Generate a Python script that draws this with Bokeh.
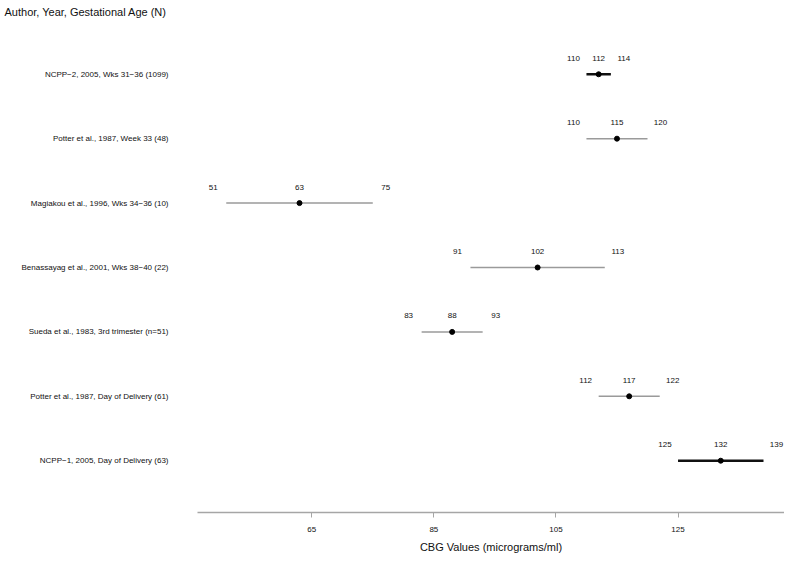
from bokeh.plotting import figure
from bokeh.models import ColumnDataSource, FixedTicker, Range1d
from bokeh.core.properties import value
from bokeh.embed import file_html
from bokeh.resources import INLINE

# ---- data ----
studies = [
    "NCPP\u22122, 2005, Wks 31\u221236 (1099)",
    "Potter et al., 1987, Week 33 (48)",
    "Magiakou et al., 1996, Wks 34\u221236 (10)",
    "Benassayag et al., 2001, Wks 38\u221240 (22)",
    "Sueda et al., 1983, 3rd trimester (n=51)",
    "Potter et al., 1987, Day of Delivery (61)",
    "NCPP\u22121, 2005, Day of Delivery (63)",
]
means = [112, 115, 63, 102, 88, 117, 132]
lowers = [110, 110, 51, 91, 83, 112, 125]
uppers = [114, 120, 75, 113, 93, 122, 139]
x_ticks = [65, 85, 105, 125]
title_text = "Author, Year, Gestational Age (N)"
x_title = "CBG Values (micrograms/ml)"

FONT = "Liberation Sans"

n = len(studies)
ypos = [n - i for i in range(n)]
ncpp = [s.startswith("NCPP") for s in studies]
colors = ["#111111" if b else "#9a9a9a" for b in ncpp]
widths = [2.6 if b else 1.5 for b in ncpp]

src = ColumnDataSource(dict(
    y=ypos, mean=means, lo=lowers, hi=uppers,
    color=colors, width=widths,
    mean_t=[str(v) for v in means],
    lo_t=[str(v) for v in lowers],
    hi_t=[str(v) for v in uppers],
))

p = figure(width=784, height=555, output_backend="svg", toolbar_location=None,
           x_range=Range1d(46.29, 142.44), y_range=Range1d(0.196, 7.835),
           min_border_left=197, min_border_right=0, min_border_top=0,
           min_border_bottom=42)
p.outline_line_color = None
p.grid.visible = False
p.background_fill_color = "white"

p.title.text = title_text
p.title.text_font = FONT
p.title.text_font_size = "11px"
p.title.text_font_style = "normal"
p.title.text_color = "#111111"
p.title.align = "left"
p.title.offset = -193
p.title.standoff = 6

p.segment(x0="lo", x1="hi", y0="y", y1="y", line_color="color",
          line_width="width", source=src)
p.scatter(x="mean", y="y", marker="circle", size=5, color="black", source=src)

common = dict(text_font_size="8px", text_align="center", text_baseline="middle",
              text_color="#111111", y_offset=-16, text_font=value(FONT))
p.text(x="lo", y="y", text="lo_t", x_offset=-13, source=src, **common)
p.text(x="mean", y="y", text="mean_t", source=src, **common)
p.text(x="hi", y="y", text="hi_t", x_offset=13, source=src, **common)

# x axis
xa = p.xaxis[0]
xa.ticker = FixedTicker(ticks=x_ticks)
xa.minor_tick_line_color = None
xa.axis_line_color = "#a6a6a6"
xa.axis_line_width = 1.5
xa.major_tick_line_color = "#a6a6a6"
xa.major_tick_out = 5
xa.major_tick_in = 0
xa.major_label_standoff = 9
xa.major_label_text_font = FONT
xa.major_label_text_font_size = "8px"
xa.major_label_text_color = "#111111"
xa.axis_label = x_title
xa.axis_label_text_font = FONT
xa.axis_label_text_font_size = "11px"
xa.axis_label_text_font_style = "normal"
xa.axis_label_text_color = "#111111"
xa.axis_label_standoff = 6

# y axis with study labels
ya = p.yaxis[0]
ya.ticker = FixedTicker(ticks=ypos)
ya.major_label_overrides = {y: s for y, s in zip(ypos, studies)}
ya.axis_line_color = None
ya.major_tick_line_color = None
ya.minor_tick_line_color = None
ya.major_tick_out = 0
ya.major_tick_in = 0
ya.major_label_standoff = 29
ya.major_label_text_font = FONT
ya.major_label_text_font_size = "8px"
ya.major_label_text_color = "#111111"

open("out.html", "w").write(file_html(p, INLINE))
